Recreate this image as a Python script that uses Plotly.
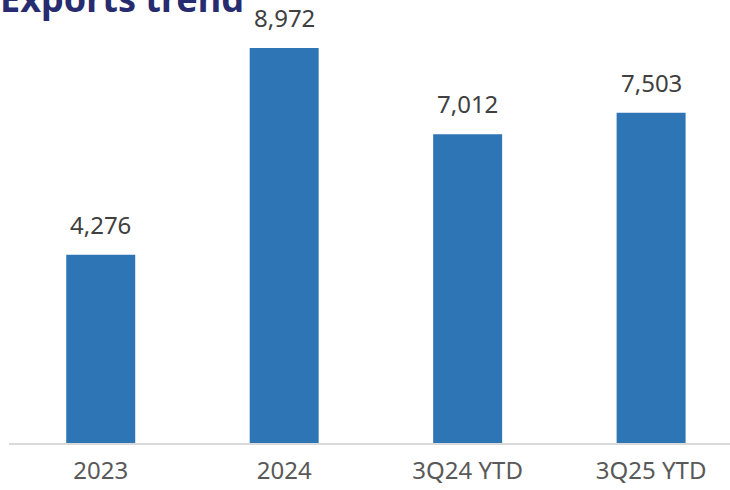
import plotly.graph_objects as go

categories = ["2023", "2024", "3Q24 YTD", "3Q25 YTD"]
values = [4276, 8972, 7012, 7503]
value_labels = ["4,276", "8,972", "7,012", "7,503"]
title_text = "Exports trend"

fig = go.Figure()
fig.add_trace(go.Bar(
    x=categories, y=values, width=0.376,
    marker=dict(color="#2e75b6", line=dict(width=0)),
    hoverinfo="skip",
))

for i, (v, t) in enumerate(zip(values, value_labels)):
    fig.add_annotation(x=i, y=v, xref="x", yref="y", text=t, showarrow=False,
                       yanchor="bottom", yshift=12,
                       font=dict(family="Noto Sans", size=24, color="#404040"))

fig.add_annotation(x=0, y=1, xref="paper", yref="paper", text="<b>" + title_text + "</b>",
                   showarrow=False, xanchor="left", yanchor="bottom", xshift=-11, yshift=-15,
                   font=dict(family="Noto Sans", size=36, color="#272b6f"))

fig.update_layout(
    width=730, height=490,
    margin=dict(l=9, r=0, t=10, b=47),
    paper_bgcolor="white", plot_bgcolor="white",
    showlegend=False,
    xaxis=dict(type="category", range=[-0.5, 3.43], showgrid=False, zeroline=False,
               showline=True, linecolor="#d9d9d9", linewidth=2, ticks="",
               ticklabelstandoff=5,
               tickfont=dict(family="Noto Sans", size=24, color="#595959")),
    yaxis=dict(range=[0, 9834], visible=False, showgrid=False, zeroline=False),
)

fig.write_html("out.html", config={"displayModeBar": False},
               post_script="document.body.style.margin='0';")
